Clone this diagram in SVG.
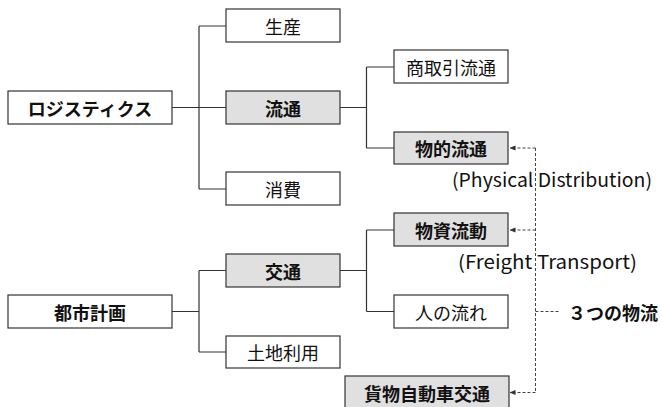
<svg xmlns="http://www.w3.org/2000/svg" width="662" height="407" viewBox="0 0 662 407">
<defs>
<style>
.box{fill:#ffffff;stroke:#333333;stroke-width:1.2}
.shade{fill:#e0e0e0;stroke:#333333;stroke-width:1.2}
.t{font-family:"Noto Sans CJK JP","Noto Sans",sans-serif;font-size:18px;fill:#111111;text-anchor:middle;dominant-baseline:central}
.l{font-family:"Noto Sans CJK JP","Noto Sans",sans-serif;font-size:19px;fill:#111111;text-anchor:middle;dominant-baseline:central}
.b{font-weight:bold}
.ln{fill:none;stroke:#333333;stroke-width:1.2}
.dash{fill:none;stroke:#444444;stroke-width:1;stroke-dasharray:3 2}
</style>
<marker id="ah" viewBox="0 0 6 6" refX="5.5" refY="3" markerWidth="6" markerHeight="6" markerUnits="userSpaceOnUse" orient="auto">
<path d="M0,0.5 L6,3 L0,5.5 Z" fill="#333333"/>
</marker>
</defs>
<rect width="662" height="407" fill="#ffffff"/>
<g id="connectors">
<path class="ln" d="M172,107.5 H226 M199,26 V189 M199,26 H226 M199,189 H226"/>
<path class="ln" d="M340,107.5 H366.5 M366.5,67 V148 M366.5,67 H394 M366.5,148 H394"/>
<path class="ln" d="M172,311.5 H199 M199,270.5 V352 M199,270.5 H226 M199,352 H226"/>
<path class="ln" d="M340,270.5 H366.5 M366.5,230 V311.5 M366.5,230 H394 M366.5,311.5 H394"/>
<path class="dash" d="M535.5,148 V392.5"/>
<path class="dash" d="M535.5,148 H510" marker-end="url(#ah)"/>
<path class="dash" d="M535.5,230 H510" marker-end="url(#ah)"/>
<path class="dash" d="M535.5,392.5 H510" marker-end="url(#ah)"/>
<path class="dash" d="M535.5,311.5 H560"/>
</g>
<g id="logistics"><rect class="box" x="8" y="91" width="164" height="33"/><text class="t b" x="90" y="107.5">ロジスティクス</text></g>
<g id="seisan"><rect class="box" x="226" y="9" width="114" height="33"/><text class="t" x="283" y="25.5">生産</text></g>
<g id="ryutsu"><rect class="shade" x="226" y="91" width="114" height="33"/><text class="t b" x="283" y="107.5">流通</text></g>
<g id="shohi"><rect class="box" x="226" y="172" width="114" height="33"/><text class="t" x="283" y="188.5">消費</text></g>
<g id="shotorihiki"><rect class="box" x="394" y="50" width="114" height="33"/><text class="t" x="451" y="66.5">商取引流通</text></g>
<g id="butsuteki"><rect class="shade" x="394" y="132" width="114" height="32"/><text class="t b" x="451" y="148">物的流通</text></g>
<text class="l" x="552" y="178" textLength="200" lengthAdjust="spacingAndGlyphs">(Physical Distribution)</text>
<g id="toshi"><rect class="box" x="8" y="295" width="164" height="33"/><text class="t b" x="90" y="311.5">都市計画</text></g>
<g id="kotsu"><rect class="shade" x="226" y="254" width="114" height="33"/><text class="t b" x="283" y="270.5">交通</text></g>
<g id="tochi"><rect class="box" x="226" y="336" width="114" height="32"/><text class="t" x="283" y="352">土地利用</text></g>
<g id="busshi"><rect class="shade" x="394" y="213" width="114" height="33"/><text class="t b" x="451" y="229.5">物資流動</text></g>
<text class="l" x="547.5" y="260" textLength="179" lengthAdjust="spacingAndGlyphs">(Freight Transport)</text>
<g id="hito"><rect class="box" x="394" y="295" width="114" height="33"/><text class="t" x="451" y="311.5">人の流れ</text></g>
<g id="kamotsu"><rect class="shade" x="345" y="376" width="164" height="40"/><text class="t b" x="427" y="392.5">貨物自動車交通</text></g>
<g id="mittsu"><text class="t b" x="568" y="311.5" style="text-anchor:start">３つの物流</text></g>
</svg>
